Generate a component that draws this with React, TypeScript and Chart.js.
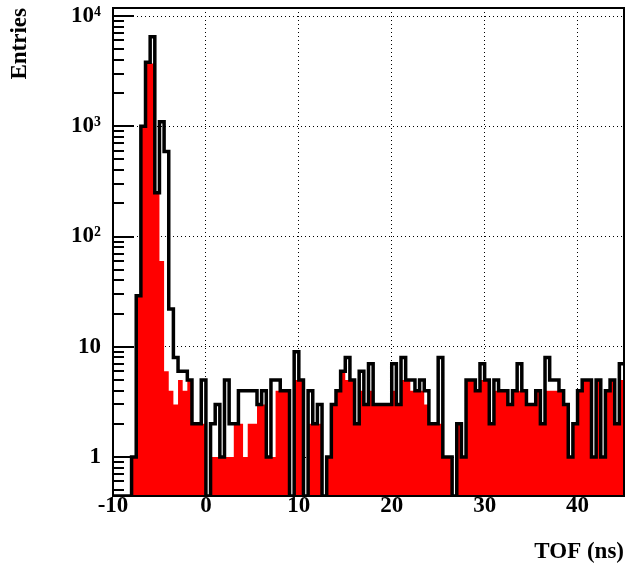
import React, { useEffect, useRef } from 'react';
import { Chart, registerables } from 'chart.js';

Chart.register(...registerables);

// Histogram binning: 0.5 ns bins from -10 ns to 45 ns (110 bins)
const binLow = -10;
const binWidth = 0.5;

// Black outline histogram (all entries), per bin
const allCounts = [
  0, 0, 0, 0, 1, 29, 1000, 3800, 6500, 250,
  1100, 590, 22, 8, 6, 6, 5, 2, 2, 5,
  0, 2, 3, 1, 5, 2, 2, 4, 4, 4,
  4, 3, 4, 1, 5, 5, 4, 4, 0, 9,
  5, 0, 4, 2, 3, 0, 1, 3, 4, 6,
  8, 5, 2, 6, 3, 7, 3, 3, 3, 3,
  7, 3, 8, 5, 5, 4, 5, 4, 2, 2,
  8, 1, 1, 0, 2, 1, 5, 5, 4, 7,
  5, 2, 5, 4, 4, 3, 4, 7, 4, 3,
  3, 4, 2, 8, 5, 5, 4, 3, 1, 2,
  4, 5, 5, 1, 5, 1, 4, 5, 2, 7,
];

// Red filled histogram (selected entries), per bin
const redCounts = [
  0, 0, 0, 0, 1, 29, 1000, 3800, 3700, 250,
  60, 6, 4, 3, 5, 4, 5, 2, 2, 2,
  0, 1, 1, 1, 1, 1, 2, 2, 1, 2,
  2, 3, 3, 1, 1, 4, 4, 4, 0, 5,
  5, 0, 2, 2, 2, 0, 1, 3, 4, 6,
  5, 5, 2, 4, 3, 4, 3, 3, 3, 3,
  4, 3, 5, 5, 4, 4, 4, 3, 2, 2,
  2, 1, 1, 0, 2, 1, 5, 5, 4, 5,
  5, 2, 4, 4, 4, 3, 4, 4, 4, 3,
  3, 4, 2, 4, 4, 4, 4, 3, 1, 2,
  4, 5, 5, 1, 5, 1, 4, 5, 2, 5,
];

const xTickValues = [-10, 0, 10, 20, 30, 40];
const yTickValues = [1, 10, 100, 1000, 10000];
const yTickLabels = ['1', '10', '10²', '10³', '10⁴'];
const xTitle = 'TOF (ns)';
const yTitle = 'Entries';

const xMin = -10;
const xMax = 45;
const yMin = 0.443;
const yMax = 11820;

function stepPoints(counts: number[]) {
  const pts: { x: number; y: number }[] = [];
  counts.forEach((c, i) => {
    const v = c > 0 ? c : yMin;
    const lo = binLow + i * binWidth;
    pts.push({ x: lo, y: v });
    pts.push({ x: lo + binWidth, y: v });
  });
  return pts;
}

const FONT = { family: "'Liberation Serif', 'Times New Roman', serif", size: 23, weight: 'bold' as const };

const frameAndTicks = {
  id: 'frameAndTicks',
  afterDatasetsDraw(chart: any) {
    const { ctx, chartArea: a, scales } = chart;
    const y = scales.y;
    ctx.save();
    ctx.strokeStyle = '#000';
    ctx.lineWidth = 2;
    for (let d = -1; d <= 4; d++) {
      for (let m = 1; m <= 9; m++) {
        const v = m * Math.pow(10, d);
        if (v < yMin || v > yMax) continue;
        const py = Math.round(y.getPixelForValue(v));
        const len = m === 1 ? 21 : 11;
        ctx.beginPath();
        ctx.moveTo(a.left, py);
        ctx.lineTo(a.left + len, py);
        ctx.stroke();
      }
    }
    ctx.strokeRect(a.left, a.top, a.right - a.left, a.bottom - a.top);
    ctx.restore();
  },
};

export default function App() {
  const ref = useRef<HTMLCanvasElement | null>(null);

  useEffect(() => {
    if (!ref.current) return;
    const chart = new Chart(ref.current, {
      type: 'line',
      data: {
        datasets: [
          {
            label: 'all',
            data: stepPoints(allCounts),
            borderColor: '#000000',
            borderWidth: 3.5,
            borderJoinStyle: 'miter',
            borderCapStyle: 'butt',
            pointRadius: 0,
            fill: false,
            tension: 0,
          },
          {
            label: 'selected',
            data: stepPoints(redCounts),
            borderColor: 'rgba(0,0,0,0)',
            borderWidth: 0,
            backgroundColor: '#ff0000',
            pointRadius: 0,
            fill: 'start',
            tension: 0,
          },
        ],
      },
      options: {
        responsive: false,
        animation: false,
        layout: { padding: { top: 8, right: 1, left: 0, bottom: 0 } },
        plugins: { legend: { display: false }, tooltip: { enabled: false } },
        scales: {
          x: {
            type: 'linear',
            min: xMin,
            max: xMax,
            afterBuildTicks: (s: any) => {
              s.ticks = xTickValues.map((v) => ({ value: v }));
            },
            afterFit: (s: any) => {
              s.height = 73;
              s.paddingLeft = 0;
              s.paddingRight = 0;
            },
            grid: { color: '#000', lineWidth: 1, drawTicks: false },
            border: { display: false, dash: [1, 3] },
            ticks: {
              font: FONT,
              color: '#000',
              padding: -4,
              maxRotation: 0,
              autoSkip: false,
              callback: (v: any) => String(v),
            },
            title: {
              display: true,
              text: xTitle,
              align: 'end',
              font: FONT,
              color: '#000',
              padding: { top: 0, bottom: 3 },
            },
          },
          y: {
            type: 'logarithmic',
            min: yMin,
            max: yMax,
            afterBuildTicks: (s: any) => {
              s.ticks = yTickValues.map((v) => ({ value: v }));
            },
            afterFit: (s: any) => {
              s.width = 113;
              s.paddingTop = 0;
              s.paddingBottom = 0;
            },
            grid: { color: '#000', lineWidth: 1, drawTicks: false },
            border: { display: false, dash: [1, 3] },
            ticks: {
              font: FONT,
              color: '#000',
              padding: 12,
              autoSkip: false,
              callback: (v: any) => {
                const i = yTickValues.indexOf(Number(v));
                return i >= 0 ? yTickLabels[i] : '';
              },
            },
            title: {
              display: true,
              text: yTitle,
              align: 'end',
              font: FONT,
              color: '#000',
              padding: { top: 6, bottom: 0 },
            },
          },
        },
      },
      plugins: [frameAndTicks],
    } as any);
    return () => chart.destroy();
  }, []);

  return (
    <div style={{ position: 'absolute', left: 0, top: 0, width: 625, height: 569, background: '#fff' }}>
      <canvas ref={ref} width={625} height={569} style={{ display: 'block' }} />
    </div>
  );
}
